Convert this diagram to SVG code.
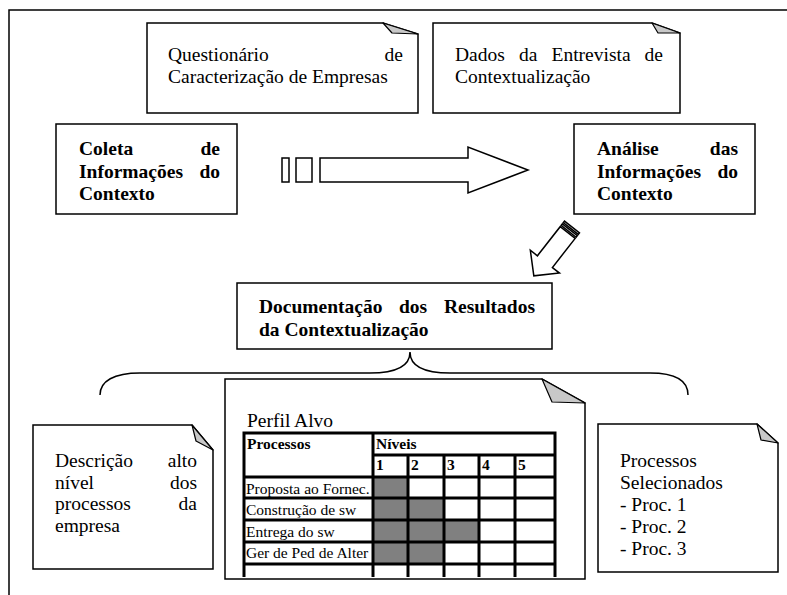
<svg xmlns="http://www.w3.org/2000/svg" width="787" height="595" viewBox="0 0 787 595">
<style>
.box{fill:#fff;stroke:#000;stroke-width:1.5}
.flap{fill:#c8c8c8;stroke:#000;stroke-width:1.2;stroke-linejoin:round}
.t{font-family:"Liberation Serif","Times New Roman",serif;font-size:19.5px;fill:#000}
.b{font-weight:bold}
.e{text-anchor:end}
.tt{font-family:"Liberation Serif","Times New Roman",serif;font-size:15.5px;fill:#000}
.grid{stroke:#000;stroke-width:3;fill:none}
.arr{fill:#fff;stroke:#000;stroke-width:1.5;stroke-linejoin:miter}
</style>
<rect width="787" height="595" fill="#fff"/>
<g id="frame"><path d="M9,595 V10 H787" fill="none" stroke="#000" stroke-width="1.5"/></g>

<g id="questionario">
<path class="box" d="M147,23 H383 L418,34 V113 H147 Z"/>
<path class="flap" d="M383,23 L418,34 L392,33 Z"/>
<text class="t" x="168" y="61">Questionário</text>
<text class="t e" x="403" y="61">de</text>
<text class="t" x="168" y="83">Caracterização de Empresas</text>
</g>

<g id="dados">
<path class="box" d="M433,23 H652 L680,33 V113 H433 Z"/>
<path class="flap" d="M652,23 L680,33 L658,33 Z"/>
<text class="t" x="455" y="61">Dados</text>
<text class="t" x="519" y="61">da</text>
<text class="t" x="551.5" y="61">Entrevista</text>
<text class="t e" x="663" y="61">de</text>
<text class="t" x="455" y="83">Contextualização</text>
</g>

<g id="coleta">
<rect class="box" x="56" y="124" width="181" height="90"/>
<text class="t b" x="79" y="155">Coleta</text>
<text class="t b e" x="220" y="155">de</text>
<text class="t b" x="79" y="178">Informações</text>
<text class="t b e" x="220" y="178">do</text>
<text class="t b" x="79" y="200">Contexto</text>
</g>

<g id="analise">
<rect class="box" x="574" y="124" width="181" height="90"/>
<text class="t b" x="597" y="155">Análise</text>
<text class="t b e" x="738" y="155">das</text>
<text class="t b" x="597" y="178">Informações</text>
<text class="t b e" x="738" y="178">do</text>
<text class="t b" x="597" y="200">Contexto</text>
</g>

<g id="documentacao">
<rect class="box" x="237" y="283" width="315" height="66"/>
<text class="t b" x="259" y="313">Documentação</text>
<text class="t b" x="399" y="313">dos</text>
<text class="t b e" x="535" y="313">Resultados</text>
<text class="t b" x="259" y="336">da Contextualização</text>
</g>

<g id="connectors">
<g id="arrow-right">
<rect class="arr" x="282" y="158" width="7" height="24"/>
<rect class="arr" x="296" y="158" width="16" height="24"/>
<path class="arr" d="M320,158 H468 V147 L528,170 L468,193 V182 H320 Z"/>
</g>
<g id="arrow-diag" transform="translate(572,227) rotate(128)">
<rect class="arr" x="0" y="-9.5" width="2" height="19"/>
<rect class="arr" x="3.5" y="-9.5" width="2" height="19"/>
<path class="arr" d="M7,-9.5 H44 V-18.5 L62,0 L44,18.5 V9.5 H7 Z"/>
</g>
<path id="brace" d="M100,395 C100,381 114,373 140,373 L370,373 C396,373 410,366 410,352 C410,366 424,373 450,373 L650,373 C676,373 688,381 688,395" fill="none" stroke="#000" stroke-width="1.5"/>
</g>

<g id="descricao">
<path class="box" d="M33,425 H192 L213,450 V569 H33 Z"/>
<path class="flap" d="M192,425 L213,450 L196,441 Z"/>
<text class="t" x="55" y="467">Descrição</text>
<text class="t e" x="197" y="467">alto</text>
<text class="t" x="55" y="489">nível</text>
<text class="t e" x="197" y="489">dos</text>
<text class="t" x="55" y="510">processos</text>
<text class="t e" x="197" y="510">da</text>
<text class="t" x="55" y="532">empresa</text>
</g>

<g id="perfil">
<path class="box" d="M225,379 H542 L585,403 V579 H225 Z"/>
<path class="flap" d="M542,379 L585,403 L552,402 Z"/>
<text class="t" x="247" y="427">Perfil Alvo</text>
<g fill="#808080">
<rect x="373" y="477" width="35" height="21"/>
<rect x="373" y="498" width="71" height="22"/>
<rect x="373" y="520" width="106" height="22"/>
<rect x="373" y="542" width="71" height="22"/>
</g>
<path class="grid" d="M244,433 H555 M373,455 H555 M244,477 H555 M244,498 H555 M244,520 H555 M244,542 H555 M244,564 H555 M244,431.5 V577 M373,433 V577 M408,455 V577 M444,455 V577 M479,455 V577 M515,455 V577 M555,431.5 V577"/>
<text class="tt b" x="247" y="449">Processos</text>
<text class="tt b" x="376" y="449">Níveis</text>
<text class="tt b" x="376" y="470">1</text>
<text class="tt b" x="411" y="470">2</text>
<text class="tt b" x="447" y="470">3</text>
<text class="tt b" x="482" y="470">4</text>
<text class="tt b" x="518" y="470">5</text>
<text class="tt" x="246" y="494">Proposta ao Fornec.</text>
<text class="tt" x="246" y="515">Construção de sw</text>
<text class="tt" x="246" y="537">Entrega do sw</text>
<text class="tt" x="246" y="558">Ger de Ped de Alter</text>
</g>

<g id="selecionados">
<path class="box" d="M598,424 H757 L778,443 V572 H598 Z"/>
<path class="flap" d="M757,424 L778,443 L761,440 Z"/>
<text class="t" x="620" y="467">Processos</text>
<text class="t" x="620" y="489">Selecionados</text>
<text class="t" x="620" y="511">- Proc. 1</text>
<text class="t" x="620" y="533">- Proc. 2</text>
<text class="t" x="620" y="555">- Proc. 3</text>
</g>
</svg>
